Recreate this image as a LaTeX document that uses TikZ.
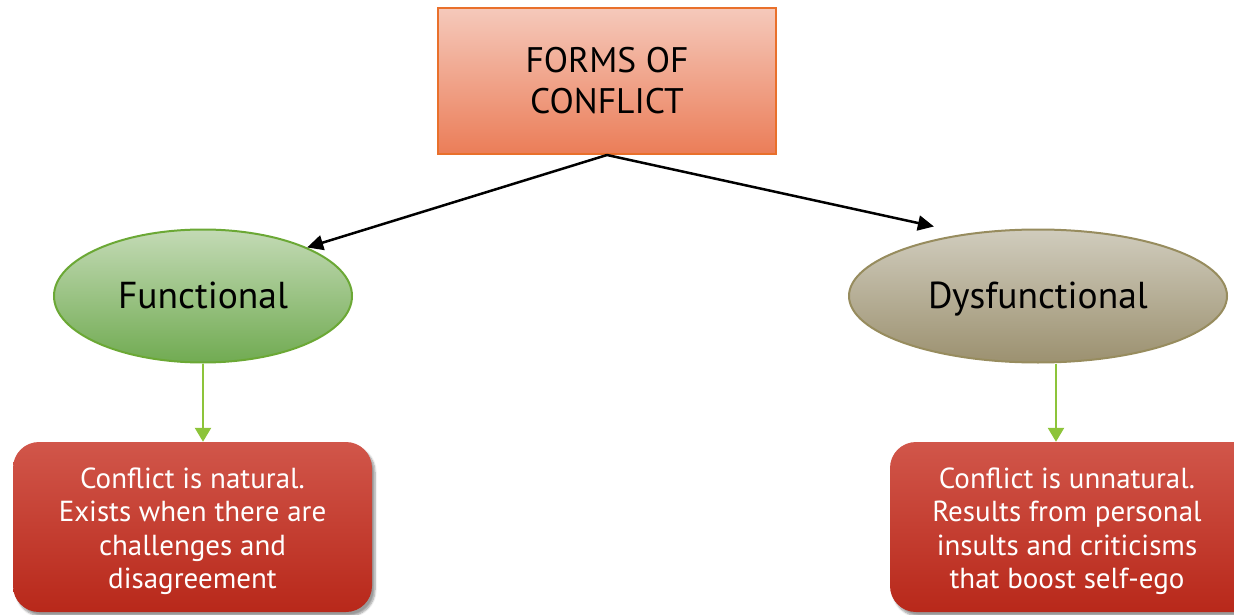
\documentclass[tikz,border=0pt]{standalone}
\usepackage{fontspec}
\setmainfont{PT Sans}
\usetikzlibrary{shapes.geometric,arrows.meta,shadows.blur}
\definecolor{topT}{HTML}{F5C9BB}
\definecolor{topB}{HTML}{EB7D58}
\definecolor{topE}{HTML}{E9702B}
\definecolor{grnT}{HTML}{C3DAB5}
\definecolor{grnB}{HTML}{71AB52}
\definecolor{grnE}{HTML}{6BA835}
\definecolor{tanT}{HTML}{D0CCBD}
\definecolor{tanB}{HTML}{9C9170}
\definecolor{tanE}{HTML}{978C5E}
\definecolor{redT}{HTML}{D1564A}
\definecolor{redB}{HTML}{B8281A}
\definecolor{garr}{HTML}{8DC43A}
\newcommand{\mylines}[2]{\raisebox{-5pt}[\height][\depth]{\hspace*{#1}\begin{tabular}{@{}c@{}}#2\end{tabular}}}
\tikzset{
  topbox/.style={rectangle, draw=topE, line width=2pt, top color=topT, bottom color=topB,
    minimum width=338pt, minimum height=146pt, align=center, font=\fontsize{35.5}{41}\selectfont},
  ovalF/.style={ellipse, draw=grnE, line width=2pt, top color=grnT, bottom color=grnB,
    minimum width=298pt, minimum height=133pt, inner sep=0pt, text height=26pt, text depth=1pt,
    font=\fontsize{37.5}{40}\selectfont},
  ovalD/.style={ellipse, draw=tanE, line width=2pt, top color=tanT, bottom color=tanB,
    minimum width=378pt, minimum height=133pt, inner sep=0pt, text height=26pt, text depth=1pt,
    font=\fontsize{37.5}{40}\selectfont},
  redbox/.style={rectangle, rounded corners=26pt, top color=redT, bottom color=redB,
    text=white, minimum height=170pt, inner sep=0pt,
    font=\fontsize{29}{33.5}\selectfont,
    blur shadow={shadow xshift=3pt, shadow yshift=-4pt, shadow blur steps=6, shadow opacity=40}},
  blackarrow/.style={draw=black, line width=2.5pt, -{Triangle[length=16pt,width=15pt]}},
  greenarrow/.style={draw=garr, line width=2.5pt, -{Triangle[length=14pt,width=16pt]}}
}
\begin{document}
\begin{tikzpicture}[x=1pt,y=-1pt]
\useasboundingbox (0,0) rectangle (1234,615);
\node[topbox] (top) at (607,81) {FORMS OF\\CONFLICT};
\node[ovalF] (fun) at (203,296) {Functional};
\node[ovalD] (dys) at (1038,296) {Dysfunctional};
\node[redbox, minimum width=359pt] (fbox) at (192.5,527)
  {\mylines{0pt}{Conflict is natural.\\Exists when there are\\challenges and\\disagreement}};
\node[redbox, minimum width=370pt] (dbox) at (1075,527)
  {\mylines{-16pt}{Conflict is unnatural.\\Results from personal\\insults and criticisms\\that boost self-ego}};
\draw[blackarrow] (top.south) -- (fun.25);
\draw[blackarrow, shorten >=33pt] (top.south) -- (dys.139);
\draw[greenarrow] ([xshift=10.5pt]fbox.north |- fun.south) -- ([xshift=10.5pt]fbox.north);
\draw[greenarrow] ([xshift=-19pt]dbox.north |- dys.south) -- ([xshift=-19pt]dbox.north);
\end{tikzpicture}
\end{document}
